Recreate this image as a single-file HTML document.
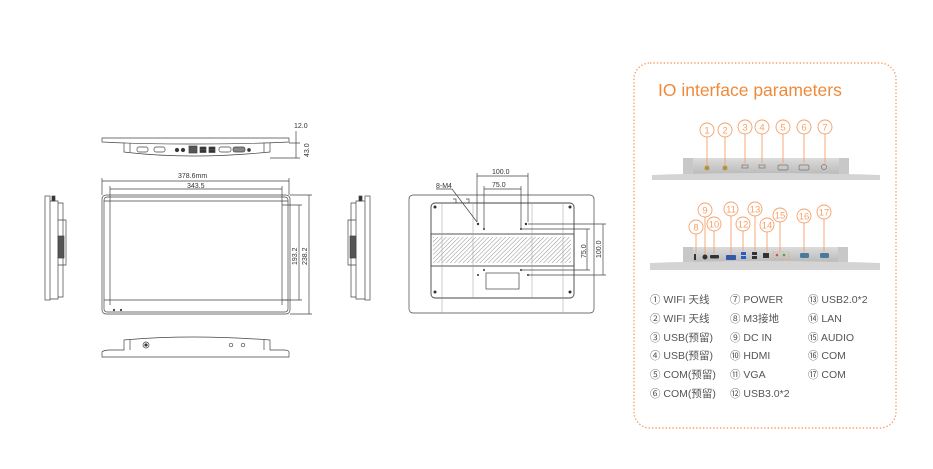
<!DOCTYPE html>
<html><head><meta charset="utf-8"><style>
body{margin:0;background:#fff;width:933px;height:469px;overflow:hidden;font-family:"Liberation Sans","Noto Sans CJK SC",sans-serif}
svg{position:absolute;left:0;top:0}
.t{font-family:"Liberation Sans",sans-serif;font-size:7px;fill:#333}
.l{font-family:"Liberation Sans","Noto Sans CJK SC",sans-serif;font-size:10.5px;fill:#555}
.n{font-family:"Liberation Sans",sans-serif;font-size:9.5px;fill:#f4a26a;text-anchor:middle}
</style></head><body>
<svg width="933" height="469" viewBox="0 0 933 469">
<defs>
<pattern id="h" width="3" height="3" patternUnits="userSpaceOnUse" patternTransform="rotate(45)"><line x1="0" y1="0" x2="0" y2="3" stroke="#777" stroke-width="0.8"/></pattern>
<linearGradient id="g" x1="0" y1="0" x2="0" y2="1"><stop offset="0" stop-color="#dcdcdc"/><stop offset="1" stop-color="#b8b8b8"/></linearGradient>
</defs>
<g fill="none" stroke="#444" stroke-width="0.7">
<!-- top view -->
<path d="M102 138 H289 V142 Q250 144 196 144 Q140 144 102 142 Z"/>
<path d="M124 143 V152 Q190 160 270 152 V143"/>
<path d="M130 143 V152"/><path d="M264 143 V152"/>
<rect x="137" y="147" width="11" height="5" rx="2"/><rect x="154" y="147" width="11" height="5" rx="2"/>
<circle cx="177" cy="150" r="1.8" fill="#333"/><circle cx="183" cy="150" r="1.8" fill="#333"/>
<rect x="189" y="146" width="8" height="7" fill="#555"/><rect x="200" y="147" width="6" height="2.5" fill="#333"/><rect x="200" y="150" width="6" height="2.5" fill="#333"/>
<rect x="209" y="147" width="6" height="2.5" fill="#333"/><rect x="209" y="150" width="6" height="2.5" fill="#333"/>
<rect x="219" y="147" width="12" height="5" rx="2"/><rect x="233" y="147" width="12" height="5" rx="2" fill="#888"/>
<circle cx="249" cy="150" r="1.5" fill="#333"/>
<!-- dims top -->
<path d="M296 131 V143 M296 143 V158 M289 143 H300 M270 158 H300"/>
<!-- front -->
<rect x="102" y="195" width="188" height="119" rx="4"/>
<rect x="104" y="197" width="184" height="115" rx="3"/>
<path d="M110 197 V305 M282 197 V305 M104 201 H288 M104 300 H288"/>
<circle cx="114" cy="310" r="0.8" fill="#333"/><circle cx="121" cy="310" r="0.8" fill="#333"/>
<path d="M102 181 H289 M102 178 V195 M289 178 V195 M110 189 H282 M110 186 V197 M282 186 V197"/>
<path d="M290 195 H312 M290 314 H312 M309 195 V314 M282 205 H302 M282 300 H302 M299 205 V300"/>
<!-- bottom view -->
<path d="M102 352 Q104 350 110 350 H124 V340 Q190 334 270 340 V350 H283 Q289 350 289 352 V357 H102 Z"/>
<path d="M130 340 V350 M264 340 V350"/>
<circle cx="146" cy="345" r="3"/><circle cx="146" cy="345" r="1.3" fill="#333"/>
<circle cx="231" cy="345" r="1.8"/><circle cx="243" cy="345" r="1.8"/>
<!-- left side -->
<rect x="45" y="196" width="5" height="104"/>
<path d="M50 201 H58 V299 H50 M58 203 H63 V297 H58 M58 220 H66 V265 H58"/>
<rect x="58" y="236" width="6" height="22" fill="#555"/>
<rect x="52" y="196" width="3" height="5" fill="#333"/>
<!-- right side -->
<rect x="365" y="196" width="5" height="104"/>
<path d="M365 201 H356 V299 H365 M356 203 H351 V297 H356 M356 220 H348 V265 H356"/>
<rect x="350" y="236" width="6" height="22" fill="#555"/>
<rect x="359" y="196" width="3" height="5" fill="#333"/>
<!-- back view -->
<rect x="409" y="195" width="185" height="118" rx="4"/>
<rect x="431" y="203" width="143" height="95" rx="4" stroke-width="0.9"/>
<rect x="431" y="234" width="143" height="32" stroke-width="0.9"/>
<rect x="433" y="237" width="138" height="26" fill="url(#h)" stroke="none"/>
<path d="M473 203 V298 M532 203 V298 M442 203 V313 M563 203 V313" stroke="#999" stroke-width="0.5"/>
<rect x="486" y="273" width="33" height="16"/>
<path d="M453 199 h3 v4 M466 199 h3 v4"/>
<g fill="#333" stroke="none"><circle cx="435" cy="207" r="1.5"/><circle cx="570" cy="207" r="1.5"/><circle cx="435" cy="292" r="1.5"/><circle cx="570" cy="292" r="1.5"/>
<circle cx="478" cy="224" r="1.2"/><circle cx="526" cy="224" r="1.2"/><circle cx="484" cy="229" r="1"/><circle cx="521" cy="229" r="1"/>
<circle cx="478" cy="275" r="1"/><circle cx="528" cy="275" r="1"/><circle cx="484" cy="270" r="1"/><circle cx="521" cy="270" r="1"/></g>
<path d="M477 173 V222 M528 173 V222 M477 176 H528 M484 186 V228 M521 186 V228 M484 189 H521"/>
<path d="M436 189 H452 L477 222"/>
<path d="M528 224 H606 M528 275 H606 M603 224 V275 M521 229 H590 M521 270 H590 M587 229 V270"/>
</g>
<g class="t">
<text x="294" y="128">12.0</text>
<text x="0" y="0" transform="translate(309 157) rotate(-90)">43.0</text>
<text x="178" y="178">378.6mm</text>
<text x="187" y="188">343.5</text>
<text transform="translate(297 265) rotate(-90)">193.2</text>
<text transform="translate(307 265) rotate(-90)">238.2</text>
<text x="492" y="174">100.0</text>
<text x="492" y="187">75.0</text>
<text x="436" y="188">8-M4</text>
<text transform="translate(586 258) rotate(-90)">75.0</text>
<text transform="translate(601 258) rotate(-90)">100.0</text>
</g>
<!-- panel -->
<rect x="634" y="63" width="262" height="365" rx="16" fill="none" stroke="#f4a26a" stroke-width="1.4" stroke-dasharray="1.4 2"/>
<text x="658" y="96" font-family="Liberation Sans,sans-serif" font-size="17.5" fill="#f08a3a">IO interface parameters</text>
<!-- top photo -->
<path d="M683 158 H849 V175 H683 Z" fill="url(#g)"/>
<rect x="683" y="158" width="10" height="17" fill="#c8c8c8"/><rect x="839" y="158" width="10" height="17" fill="#c8c8c8"/>
<path d="M652 175 Q760 171 880 175 V180 H652 Z" fill="#d4d4d4"/>
<g fill="#b59248"><circle cx="707" cy="168" r="2.5"/><circle cx="725" cy="168" r="2.5"/></g>
<g fill="none" stroke="#777" stroke-width="0.7"><rect x="742" y="165" width="6" height="3"/><rect x="759" y="165" width="6" height="3"/><rect x="778" y="165" width="10" height="5" rx="1.5"/><rect x="799" y="165" width="10" height="5" rx="1.5"/><circle cx="824" cy="167" r="2.5"/></g>
<!-- bottom photo -->
<path d="M683 247 H848 V263 H683 Z" fill="url(#g)"/>
<rect x="683" y="247" width="10" height="16" fill="#c8c8c8"/><rect x="838" y="247" width="10" height="16" fill="#c8c8c8"/>
<path d="M650 263 Q760 259 880 263 V270 H650 Z" fill="#d4d4d4"/>
<rect x="694" y="254" width="2" height="6" fill="#333"/>
<circle cx="705" cy="257" r="2.5" fill="#333"/>
<rect x="710" y="255" width="9" height="3.5" rx="1" fill="#333"/>
<rect x="726" y="255" width="10" height="5" rx="1" fill="#3458a8"/>
<rect x="741" y="252" width="5" height="3" fill="#2a5cc8"/><rect x="741" y="256" width="5" height="3" fill="#2a5cc8"/>
<rect x="752" y="252" width="5" height="3" fill="#333"/><rect x="752" y="256" width="5" height="3" fill="#333"/>
<rect x="763" y="253" width="6" height="5" fill="#333"/>
<rect x="773" y="252" width="16" height="7" fill="none" stroke="#f4a26a" stroke-width="0.8" stroke-dasharray="1 1"/>
<circle cx="777" cy="255" r="1.3" fill="#c55"/><circle cx="784" cy="255" r="1.3" fill="#4a4"/>
<rect x="800" y="253" width="9" height="5" rx="1.5" fill="#4a7a9a"/><rect x="820" y="253" width="9" height="5" rx="1.5" fill="#4a7a9a"/>
<!-- callouts -->
<g fill="#fff" stroke="#f4a26a" stroke-width="0.9">
<path d="M707 137 V165 M725 137 V165 M745 134 V163 M762 134 V163 M783 134 V163 M804 134 V163 M825 134 V163" fill="none"/>
<path d="M696 234 V253 M705 217 V254 M714 231 V254 M731 216 V254 M743 231 V251 M755 216 V251 M767 232 V252 M780 222 V252 M804 223 V252 M824 219 V252" fill="none"/>
<circle cx="707" cy="130" r="7"/><circle cx="725" cy="130" r="7"/><circle cx="745" cy="127" r="7"/><circle cx="762" cy="127" r="7"/><circle cx="783" cy="127" r="7"/><circle cx="804" cy="127" r="7"/><circle cx="825" cy="127" r="7"/>
<circle cx="696" cy="227" r="7"/><circle cx="705" cy="210" r="7"/><circle cx="714" cy="224" r="7"/><circle cx="731" cy="209" r="7"/><circle cx="743" cy="224" r="7"/><circle cx="755" cy="209" r="7"/><circle cx="767" cy="225" r="7"/><circle cx="780" cy="215" r="7"/><circle cx="804" cy="216" r="7"/><circle cx="824" cy="212" r="7"/>
</g>
<g class="n">
<text x="707" y="133.5">1</text><text x="725" y="133.5">2</text><text x="745" y="130.5">3</text><text x="762" y="130.5">4</text><text x="783" y="130.5">5</text><text x="804" y="130.5">6</text><text x="825" y="130.5">7</text>
<text x="696" y="230.5">8</text><text x="705" y="213.5">9</text><text x="714" y="227.5">10</text><text x="731" y="212.5">11</text><text x="743" y="227.5">12</text><text x="755" y="212.5">13</text><text x="767" y="228.5">14</text><text x="780" y="218.5">15</text><text x="804" y="219.5">16</text><text x="824" y="215.5">17</text>
</g>
<g class="l">
<text x="650" y="303">① WIFI 天线</text><text x="650" y="322">② WIFI 天线</text><text x="650" y="341">③ USB(预留)</text><text x="650" y="359">④ USB(预留)</text><text x="650" y="378">⑤ COM(预留)</text><text x="650" y="397">⑥ COM(预留)</text>
<text x="730" y="303">⑦ POWER</text><text x="730" y="322">⑧ M3接地</text><text x="730" y="341">⑨ DC IN</text><text x="730" y="359">⑩ HDMI</text><text x="730" y="378">⑪ VGA</text><text x="730" y="397">⑫ USB3.0*2</text>
<text x="808" y="303">⑬ USB2.0*2</text><text x="808" y="322">⑭ LAN</text><text x="808" y="341">⑮ AUDIO</text><text x="808" y="359">⑯ COM</text><text x="808" y="378">⑰ COM</text>
</g>
</svg>
</body></html>
